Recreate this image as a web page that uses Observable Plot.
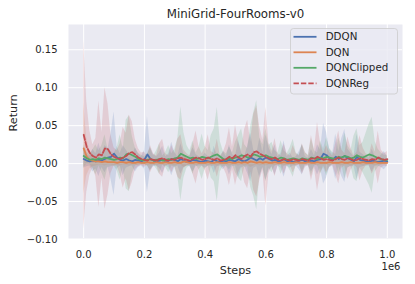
<!DOCTYPE html>
<html>
<head>
<meta charset="utf-8">
<script src="https://cdn.jsdelivr.net/npm/d3@7"></script>
<script src="https://cdn.jsdelivr.net/npm/@observablehq/plot@0.6"></script>
<style>
  html, body { margin: 0; padding: 0; background: #ffffff; }
  #chart svg { display: block; }
</style>
</head>
<body>
<div id="chart"></div>
<script>
const title = "MiniGrid-FourRooms-v0";
const xLabel = "Steps";
const yLabel = "Return";
const xOffsetText = "1e6";
const seriesNames = ["DDQN", "DQN", "DQNClipped", "DQNReg"];
const seriesColors = ["#4C72B0", "#DD8452", "#55A868", "#C44E52"];
const xTicks = [0, 200000, 400000, 600000, 800000, 1000000];
const yTicks = [-0.10, -0.05, 0.00, 0.05, 0.10, 0.15];

const steps = [0,10000,20000,30000,40000,50000,60000,70000,80000,90000,
  100000,110000,120000,130000,140000,150000,160000,170000,180000,190000,
  200000,210000,220000,230000,240000,250000,260000,270000,280000,290000,
  300000,310000,320000,330000,340000,350000,360000,370000,380000,390000,
  400000,410000,420000,430000,440000,450000,460000,470000,480000,490000,
  500000,510000,520000,530000,540000,550000,560000,570000,580000,590000,
  600000,610000,620000,630000,640000,650000,660000,670000,680000,690000,
  700000,710000,720000,730000,740000,750000,760000,770000,780000,790000,
  800000,810000,820000,830000,840000,850000,860000,870000,880000,890000,
  900000,910000,920000,930000,940000,950000,960000,970000,980000,990000,1000000];

// mean return and its spread per series
const ddqnMean = [0.006,0.004,0.003,0.004,0.003,0.005,0.004,0.006,0.008,0.009,
  0.013,0.008,0.005,0.004,0.006,0.004,0.003,0.005,0.004,0.003,
  0.005,0.012,0.006,0.004,0.003,0.004,0.005,0.003,0.004,0.006,
  0.005,0.003,0.006,0.004,0.002,0.003,0.005,0.004,0.003,0.002,
  0.004,0.003,0.002,0.005,0.003,0.002,0.004,0.003,0.005,0.004,
  0.003,0.006,0.004,0.003,0.005,0.008,0.006,0.004,0.007,0.005,
  0.008,0.006,0.004,0.005,0.003,0.004,0.006,0.003,0.004,0.002,
  0.003,0.004,0.005,0.003,0.002,0.004,0.003,0.005,0.006,0.013,
  0.011,0.007,0.005,0.009,0.006,0.008,0.010,0.007,0.005,0.003,
  0.009,0.005,0.004,0.003,0.002,0.004,0.003,0.002,0.003,0.004,0.003];
const ddqnSd = [0.012,0.008,0.006,0.015,0.01,0.022,0.009,0.018,0.012,0.03,
  0.055,0.015,0.008,0.02,0.012,0.008,0.006,0.016,0.009,0.006,
  0.012,0.05,0.015,0.008,0.006,0.01,0.018,0.006,0.009,0.022,
  0.01,0.006,0.02,0.009,0.005,0.007,0.016,0.008,0.006,0.005,
  0.01,0.006,0.005,0.018,0.007,0.005,0.012,0.006,0.02,0.008,
  0.006,0.025,0.01,0.006,0.018,0.032,0.012,0.008,0.026,0.01,
  0.03,0.015,0.008,0.02,0.006,0.01,0.024,0.006,0.01,0.005,
  0.006,0.012,0.02,0.006,0.005,0.015,0.007,0.02,0.012,0.04,
  0.03,0.012,0.008,0.03,0.01,0.025,0.035,0.012,0.009,0.006,
  0.03,0.01,0.008,0.006,0.005,0.015,0.006,0.005,0.008,0.012,0.006];

const dqnMean = [0.02,0.009,0.005,0.004,0.003,0.003,0.002,0.003,0.002,0.002,
  0.002,0.001,0.002,0.002,0.001,0.002,0.001,0.001,0.002,0.001,
  0.001,0.002,0.001,0.001,0.002,0.001,0.001,0.002,0.001,0.001,
  0.002,0.001,0.001,0.003,0.002,0.001,0.001,0.002,0.001,0.001,
  0.001,0.002,0.001,0.001,0.002,0.001,0.001,0.001,0.002,0.001,
  0.001,0.002,0.001,0.002,0.001,0.003,0.002,0.001,0.002,0.001,
  0.002,0.001,0.001,0.002,0.001,0.001,0.002,0.001,0.001,0.001,
  0.002,0.001,0.001,0.001,0.002,0.001,0.001,0.002,0.001,0.001,
  0.001,0.002,0.001,0.001,0.001,0.002,0.001,0.001,0.002,0.001,
  0.001,0.001,0.002,0.001,0.001,0.001,0.002,0.001,0.001,0.001,0.001];
const dqnSd = [0.06,0.025,0.012,0.008,0.006,0.005,0.004,0.006,0.004,0.004,
  0.005,0.003,0.005,0.004,0.003,0.005,0.003,0.003,0.005,0.003,
  0.003,0.005,0.003,0.003,0.005,0.003,0.003,0.005,0.003,0.003,
  0.005,0.003,0.003,0.008,0.005,0.003,0.003,0.005,0.003,0.003,
  0.003,0.005,0.003,0.003,0.005,0.003,0.003,0.003,0.005,0.003,
  0.003,0.005,0.003,0.005,0.003,0.008,0.005,0.003,0.005,0.003,
  0.005,0.003,0.003,0.005,0.003,0.003,0.005,0.003,0.003,0.003,
  0.005,0.003,0.003,0.003,0.005,0.003,0.003,0.005,0.003,0.003,
  0.003,0.005,0.003,0.003,0.003,0.005,0.003,0.003,0.005,0.003,
  0.003,0.003,0.005,0.003,0.003,0.003,0.005,0.003,0.003,0.003,0.003];

const clippedMean = [0.01,0.007,0.005,0.006,0.005,0.007,0.006,0.008,0.007,0.006,
  0.005,0.006,0.008,0.007,0.012,0.013,0.011,0.009,0.006,0.005,
  0.004,0.005,0.006,0.004,0.005,0.006,0.004,0.005,0.006,0.005,
  0.007,0.008,0.013,0.011,0.009,0.007,0.008,0.006,0.007,0.009,
  0.008,0.007,0.009,0.011,0.012,0.009,0.006,0.005,0.007,0.006,
  0.008,0.009,0.011,0.01,0.008,0.009,0.012,0.011,0.009,0.01,
  0.011,0.009,0.008,0.007,0.006,0.008,0.007,0.005,0.006,0.007,
  0.006,0.005,0.007,0.006,0.005,0.008,0.007,0.006,0.008,0.007,
  0.009,0.008,0.007,0.006,0.009,0.008,0.01,0.009,0.007,0.008,
  0.011,0.009,0.008,0.01,0.012,0.011,0.009,0.007,0.006,0.005,0.005];
const clippedSd = [0.015,0.008,0.006,0.012,0.02,0.01,0.018,0.03,0.012,0.01,
  0.008,0.015,0.03,0.012,0.045,0.05,0.025,0.012,0.008,0.006,
  0.005,0.008,0.015,0.006,0.012,0.02,0.006,0.01,0.018,0.008,
  0.012,0.025,0.062,0.03,0.015,0.01,0.022,0.008,0.015,0.03,
  0.015,0.01,0.028,0.035,0.062,0.02,0.01,0.008,0.015,0.008,
  0.02,0.028,0.035,0.015,0.012,0.04,0.055,0.072,0.025,0.015,
  0.035,0.015,0.02,0.01,0.008,0.022,0.01,0.008,0.015,0.025,
  0.008,0.006,0.018,0.008,0.006,0.025,0.01,0.008,0.022,0.012,
  0.025,0.012,0.008,0.006,0.025,0.01,0.03,0.015,0.01,0.028,
  0.035,0.015,0.02,0.03,0.04,0.05,0.02,0.012,0.008,0.006,0.006];

const regMean = [0.038,0.022,0.014,0.01,0.008,0.012,0.011,0.02,0.019,0.012,
  0.009,0.007,0.006,0.008,0.01,0.014,0.015,0.012,0.008,0.006,
  0.005,0.004,0.006,0.005,0.004,0.006,0.007,0.005,0.004,0.006,
  0.005,0.007,0.008,0.006,0.005,0.004,0.006,0.008,0.007,0.005,
  0.006,0.008,0.006,0.005,0.007,0.004,0.005,0.006,0.009,0.007,
  0.011,0.008,0.006,0.01,0.012,0.009,0.015,0.016,0.013,0.011,
  0.009,0.007,0.006,0.008,0.005,0.004,0.006,0.005,0.004,0.006,
  0.005,0.004,0.006,0.005,0.004,0.007,0.006,0.009,0.007,0.005,
  0.006,0.005,0.004,0.006,0.008,0.006,0.005,0.007,0.006,0.004,
  0.005,0.007,0.006,0.005,0.004,0.006,0.005,0.008,0.006,0.005,0.006];
const regSd = [0.125,0.06,0.03,0.015,0.025,0.07,0.03,0.08,0.06,0.025,
  0.012,0.01,0.02,0.04,0.03,0.05,0.04,0.02,0.012,0.008,
  0.01,0.006,0.018,0.008,0.006,0.02,0.025,0.008,0.006,0.018,
  0.008,0.025,0.03,0.012,0.008,0.006,0.02,0.035,0.015,0.008,
  0.015,0.03,0.01,0.008,0.025,0.006,0.01,0.02,0.038,0.015,
  0.04,0.02,0.01,0.035,0.045,0.02,0.05,0.06,0.035,0.02,
  0.065,0.02,0.01,0.025,0.008,0.006,0.02,0.008,0.006,0.018,
  0.008,0.006,0.02,0.01,0.006,0.03,0.012,0.045,0.02,0.008,
  0.018,0.01,0.006,0.02,0.035,0.012,0.008,0.028,0.015,0.006,
  0.01,0.03,0.015,0.008,0.006,0.02,0.01,0.035,0.012,0.008,0.01];

const means = [ddqnMean, dqnMean, clippedMean, regMean];
const sds = [ddqnSd, dqnSd, clippedSd, regSd];

const rows = [];
seriesNames.forEach((name, s) => {
  steps.forEach((step, i) => {
    const m = means[s][i], sd = sds[s][i];
    rows.push({series: name, step, mean: m, lo: m - sd, hi: m + sd});
  });
});

const FONT = "DejaVu Sans, sans-serif";
const TXT = "#262626";
const LW = 1.8;

const chart = Plot.plot({
  width: 415,
  height: 284,
  marginTop: 24,
  marginBottom: 46,
  marginLeft: 68,
  marginRight: 13,
  style: {fontFamily: FONT, fontSize: "10px", color: TXT, background: "#ffffff", overflow: "visible"},
  x: {domain: [-50000, 1050000]},
  y: {domain: [-0.0987, 0.1833]},
  color: {domain: seriesNames, range: seriesColors},
  marks: [
    Plot.frame({fill: "#EAEAF2", stroke: null}),
    Plot.gridX(xTicks, {stroke: "#ffffff", strokeOpacity: 1, strokeWidth: 1}),
    Plot.gridY(yTicks, {stroke: "#ffffff", strokeOpacity: 1, strokeWidth: 1}),
    Plot.axisX(xTicks, {tickSize: 0, tickPadding: 12, tickFormat: d => (d / 1e6).toFixed(1), label: null, fontSize: 10, fill: TXT}),
    Plot.axisY(yTicks, {tickSize: 0, tickPadding: 11, tickFormat: d3.format(".2f"), label: null, fontSize: 10, fill: TXT}),
    Plot.areaY(rows, {x: "step", y1: "lo", y2: "hi", fill: "series", fillOpacity: 0.18, z: "series"}),
    Plot.lineY(rows.filter(d => d.series !== "DQNReg"), {x: "step", y: "mean", stroke: "series", strokeWidth: LW, z: "series"}),
    Plot.lineY(rows.filter(d => d.series === "DQNReg"), {x: "step", y: "mean", stroke: "series", strokeWidth: LW, strokeDasharray: "5.4,2"}),
    Plot.text([title], {frameAnchor: "top", dy: -10.7, lineAnchor: "middle", text: d => d, fontSize: 11.8, fill: TXT}),
    Plot.text([xLabel], {frameAnchor: "bottom", dy: 32, lineAnchor: "middle", text: d => d, fontSize: 11.2, fill: TXT}),
    Plot.text([yLabel], {frameAnchor: "left", dx: -55.3, rotate: -90, lineAnchor: "middle", text: d => d, fontSize: 11.2, fill: TXT}),
    Plot.text([xOffsetText], {frameAnchor: "bottom-right", dx: -2, dy: 28.7, lineAnchor: "middle", textAnchor: "end", text: d => d, fontSize: 10, fill: TXT})
  ]
});

// legend
const svg = d3.select(chart);
const lg = svg.append("g").attr("font-family", FONT).attr("font-size", 10.3).attr("text-anchor", "start");
lg.append("rect")
  .attr("x", 290.5).attr("y", 28.5).attr("width", 107).attr("height", 65.5)
  .attr("rx", 3).attr("fill", "#EAEAF2").attr("fill-opacity", 0.8)
  .attr("stroke", "#CCCCCC").attr("stroke-opacity", 0.8).attr("stroke-width", 1);
seriesNames.forEach((name, i) => {
  const y = 36.8 + 15.5 * i;
  lg.append("line")
    .attr("x1", 293.5).attr("x2", 316.5).attr("y1", y).attr("y2", y)
    .attr("stroke", seriesColors[i]).attr("stroke-width", LW)
    .attr("stroke-dasharray", name === "DQNReg" ? "5.4,2" : null);
  lg.append("text")
    .attr("x", 325.7).attr("y", y).attr("dy", "0.35em")
    .attr("text-anchor", "start")
    .attr("fill", TXT).text(name);
});

document.getElementById("chart").appendChild(chart);
</script>
</body>
</html>
